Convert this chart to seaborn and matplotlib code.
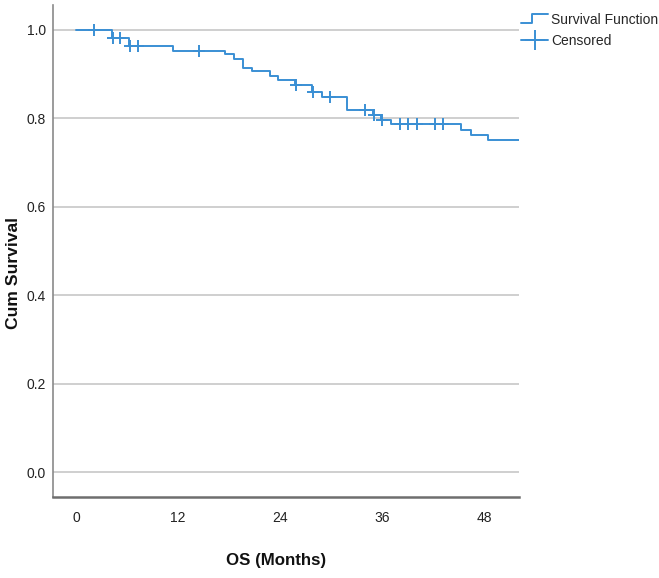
import numpy as np
import pandas as pd
import matplotlib
matplotlib.use("Agg")
import matplotlib.pyplot as plt
from matplotlib import font_manager
from matplotlib.lines import Line2D
from matplotlib.legend_handler import HandlerBase
import seaborn as sns

# ---- data ----
event_times = [0, 4.2, 6.2, 11.4, 17.5, 18.6, 19.7, 20.7, 22.8, 23.8, 25.8,
               27.8, 28.9, 31.9, 34.9, 35.9, 37.0, 45.3, 46.4, 48.4, 52.2]
survival = [1.0, 0.981, 0.963, 0.952, 0.945, 0.934, 0.914, 0.906, 0.896, 0.886,
            0.876, 0.859, 0.849, 0.818, 0.808, 0.797, 0.788, 0.774, 0.762, 0.751, 0.751]
censored_times = [2.15, 4.3, 5.2, 6.3, 7.3, 14.5, 25.9, 27.9, 29.9, 34.0,
                  35.0, 36.0, 38.1, 39.1, 40.1, 42.2, 43.2]
x_ticks = [0, 12, 24, 36, 48]
y_ticks = [0.0, 0.2, 0.4, 0.6, 0.8, 1.0]
legend_labels = ["Survival Function", "Censored"]

sns.set_theme(style="white")
names = {f.name for f in font_manager.fontManager.ttflist}
if "Liberation Sans Narrow" in names:
    fam = ["Liberation Sans Narrow", "DejaVu Sans"]
    k = 1.0
else:
    fam = ["Liberation Sans", "DejaVu Sans"]
    k = 0.84
plt.rcParams["font.family"] = fam

blue = "#3a8fd4"
fig = plt.figure(figsize=(6.59, 5.78), dpi=100)
W, H = 659, 578
ax = fig.add_axes([53 / W, 1 - 497 / H, (519 - 53) / W, (497 - 5) / H])

df = pd.DataFrame({"t": event_times, "s": survival})
sns.lineplot(data=df, x="t", y="s", drawstyle="steps-post", color=blue,
             linewidth=1.4, ax=ax, legend=False)

cs = [survival[np.searchsorted(event_times, c, side="right") - 1] for c in censored_times]
dfc = pd.DataFrame({"t": censored_times, "s": cs})
sns.scatterplot(data=dfc, x="t", y="s", marker="+", s=70, color=blue,
                linewidth=1.4, ax=ax, legend=False, zorder=3)

ax.set_xlim(-2.7, 52.1)
ax.set_ylim(-0.056, 1.056)
ax.set_xticks(x_ticks)
ax.set_yticks(y_ticks)
ax.set_xticklabels([str(v) for v in x_ticks])
ax.set_yticklabels([f"{v:.1f}" for v in y_ticks])
ax.tick_params(axis="both", length=0, labelsize=10, colors="#222222")
ax.tick_params(axis="x", pad=10)
ax.tick_params(axis="y", pad=5)
ax.yaxis.grid(True, color="#cccccc", linewidth=1.3)
ax.xaxis.grid(False)
ax.set_axisbelow(True)
for s in ["top", "right"]:
    ax.spines[s].set_visible(False)
ax.spines["left"].set_color("#8a8a8a")
ax.spines["left"].set_linewidth(1.2)
ax.spines["bottom"].set_color("#6e6e6e")
ax.spines["bottom"].set_linewidth(1.8)

ax.set_xlabel("OS (Months)", fontsize=14.5 * k, fontweight="bold", color="#111111", va="center")
ax.xaxis.set_label_coords((276 - 53) / 466, (497 - 561) / 492)
ax.set_ylabel("Cum Survival", fontsize=15 * k, fontweight="bold", color="#111111", va="center")
ax.yaxis.set_label_coords((14 - 53) / 466, (497 - 273) / 492)


class StepHandler(HandlerBase):
    def create_artists(self, legend, orig_handle, xdescent, ydescent, width,
                       height, fontsize, trans):
        xs = np.array([0, 0.42, 0.42, 1.0]) * width - xdescent
        ys = np.array([0.1, 0.1, 1.05, 1.05]) * height - ydescent
        ln = Line2D(xs, ys, color=orig_handle.get_color(),
                    linewidth=orig_handle.get_linewidth(), transform=trans)
        return [ln]


h1 = Line2D([], [], color=blue, linewidth=1.4)
h2 = Line2D([], [], color=blue, linewidth=1.4, marker="+", markersize=14,
            markeredgewidth=1.4)
fig.legend([h1, h2], legend_labels, loc="upper left",
           bbox_to_anchor=(521 / W, 1 - 13 / H), frameon=False,
           borderpad=0, borderaxespad=0, handlelength=1.95, handletextpad=0.2,
           labelspacing=0.5, numpoints=1, prop={"size": 10},
           handler_map={h1: StepHandler()})

fig.savefig("out.png", dpi=100, facecolor="white")
